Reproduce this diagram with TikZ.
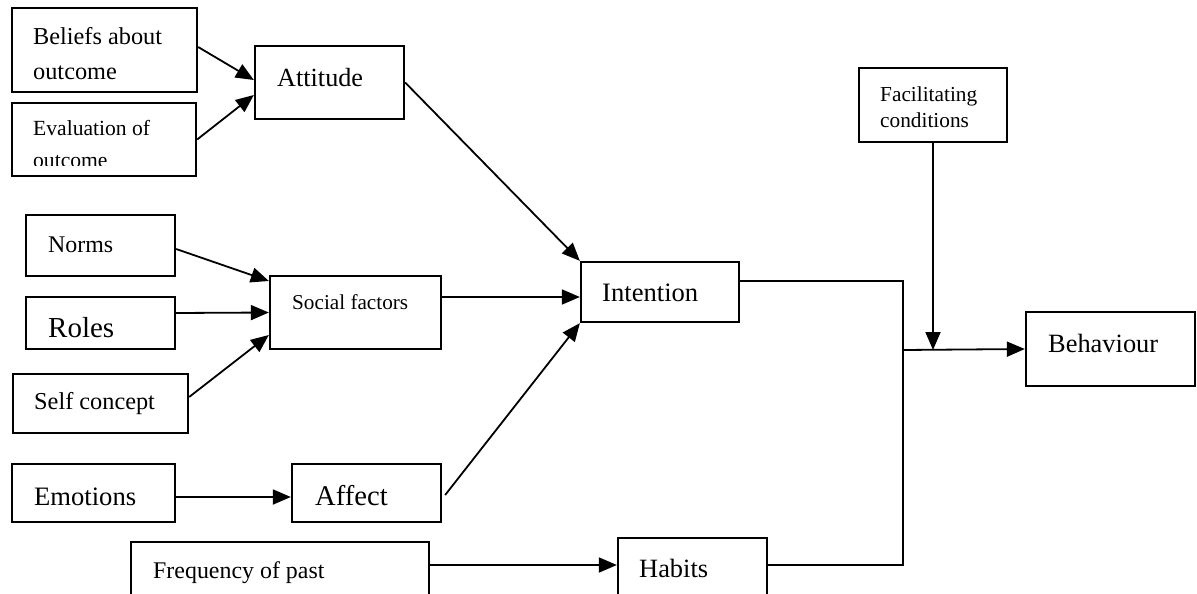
\documentclass[tikz,border=0pt]{standalone}
\usepackage{fontspec}
\setmainfont{Liberation Serif}
\usetikzlibrary{arrows.meta}
\tikzset{
  box/.style={draw=black, line width=2.3pt, inner sep=0pt},
  lbl/.style={inner sep=0pt, anchor=base west, text=black},
  conn/.style={draw=black, line width=1.8pt},
  arr/.style={conn, -{Triangle[length=18pt,width=15pt]}},
}
\newcommand\tsize[1]{\fontsize{#1pt}{#1pt}\selectfont}

\begin{document}
\begin{tikzpicture}[x=1pt,y=-1pt]
\useasboundingbox (0,0) rectangle (1197,594);
\clip (0,0) rectangle (1197,594);

% ---- boxes ----
\node[box, minimum width=185, minimum height=84] (beliefs) at (104.5,50) {};
\node[box, minimum width=184, minimum height=73] (eval)    at (104,139.5) {};
\node[box, minimum width=149, minimum height=73] (att)     at (329.5,82.5) {};
\node[box, minimum width=149, minimum height=61] (norms)   at (100.5,245.5) {};
\node[box, minimum width=149, minimum height=52] (roles)   at (100.5,323) {};
\node[box, minimum width=175, minimum height=59] (self)    at (100.5,403.5) {};
\node[box, minimum width=171, minimum height=73] (social)  at (355.5,312.5) {};
\node[box, minimum width=158, minimum height=60] (intent)  at (660,292) {};
\node[box, minimum width=148, minimum height=74] (facil)   at (933,105) {};
\node[box, minimum width=169, minimum height=74] (behav)   at (1110.5,349) {};
\node[box, minimum width=163, minimum height=58] (emo)     at (93.5,493) {};
\node[box, minimum width=149, minimum height=58] (affect)  at (366.5,493) {};
\node[box, minimum width=298, minimum height=78] (freq)    at (280,581) {};
\node[box, minimum width=149, minimum height=77] (habits)  at (692.5,576.5) {};

% ---- labels ----
\node[lbl, font=\tsize{24.3}] (tbel1) at (33,45) {Beliefs about};
\node[lbl, font=\tsize{24.3}] (tbel2) at (33,79) {outcome};
\node[lbl, font=\tsize{21.6}] (tev1) at (33,135) {Evaluation of};
\begin{scope}
  \clip (12,103) rectangle (196,165.5);
  \node[lbl, font=\tsize{21.6}] (tev2) at (33,167.5) {outcome};
\end{scope}
\node[lbl, font=\tsize{26.2}] (tatt) at (277,86) {Attitude};
\node[lbl, font=\tsize{23.9}] (tnorm) at (48,252) {Norms};
\node[lbl, font=\tsize{29}] (trole) at (48,337) {Roles};
\node[lbl, font=\tsize{24.3}] (tself) at (34,409) {Self concept};
\node[lbl, font=\tsize{21.2}] (tsoc) at (292,309) {Social factors};
\node[lbl, font=\tsize{26.6}] (tint) at (602,301) {Intention};
\node[lbl, font=\tsize{21.3}] (tfac1) at (880,102) {Facilitating};
\node[lbl, font=\tsize{21.3}] (tfac2) at (880,128) {conditions};
\node[lbl, font=\tsize{26.4}] (tbeh) at (1048,352) {Behaviour};
\node[lbl, font=\tsize{26.6}] (temo) at (34,505) {Emotions};
\node[lbl, font=\tsize{28.6}] (taff) at (315,505) {Affect};
\node[lbl, font=\tsize{23.9}] (tfreq) at (153,578) {Frequency of past};
\node[lbl, font=\tsize{26.4}] (thab) at (639,577) {Habits};

% ---- junction points on the right ----
\coordinate (jtop) at (903,281);
\coordinate (jmid) at (903,350);
\coordinate (jbot) at (903,565);

% ---- connectors ----
\draw[arr] ([yshift=3pt]beliefs.east) -- ([yshift=2.5pt]att.west);
\draw[arr] (eval.east) -- ([yshift=-12.5pt]att.west);
\draw[arr] ([yshift=-3.5pt]norms.east) -- ([yshift=31.5pt]social.west);
\draw[arr] ([yshift=10pt]roles.east) -- (social.west);
\draw[arr] ([yshift=6.5pt]self.east) -- ([yshift=-22.5pt]social.west);
\draw[arr] (att.east) -- (intent.north west);
\draw[arr] ([yshift=15.5pt]social.east) -- ([yshift=-5pt]intent.west);
\draw[arr] ([xshift=3pt,yshift=-2pt]affect.east) -- (intent.south west);
\draw[arr] ([yshift=-4pt]emo.east) -- ([yshift=-4pt]affect.west);
\draw[arr] ([yshift=16pt]freq.east) -- ([yshift=11.5pt]habits.west);
\draw[conn, line width=1.5pt] ([yshift=11pt]intent.east) -- (jtop) -- (jbot) -- ([yshift=11.5pt]habits.east);
\draw[arr] (jmid) -- (behav.west);
\draw[arr] (facil.south) -- (facil.south |- jmid);
\end{tikzpicture}
\end{document}
